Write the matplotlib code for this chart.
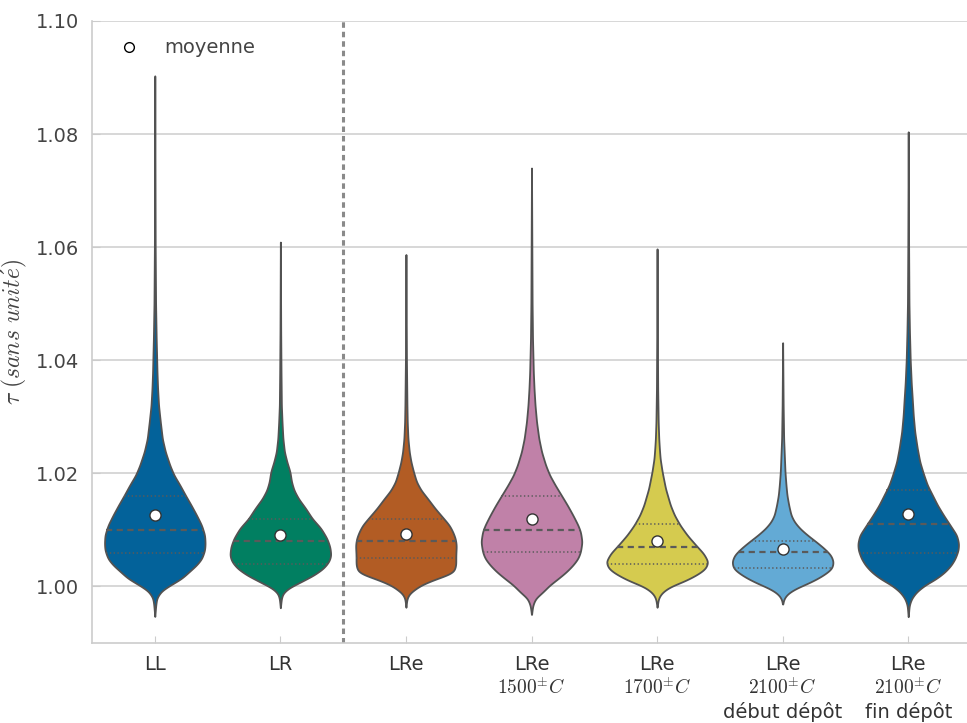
import numpy as np
import matplotlib
matplotlib.use("Agg")
import matplotlib.pyplot as plt
from matplotlib.lines import Line2D
from matplotlib.ticker import FormatStrFormatter

plt.rcParams['font.family'] = ['DejaVu Sans']
plt.rcParams['mathtext.fontset'] = 'cm'

# ---------------- data ----------------
categories = ["LL", "LR", "LRe",
              "LRe\n$\\mathsf{1500}^{\\pm}C$",
              "LRe\n$\\mathsf{1700}^{\\pm}C$",
              "LRe\n$\\mathsf{2100}^{\\pm}C$\ndébut dépôt",
              "LRe\n$\\mathsf{2100}^{\\pm}C$\nfin dépôt"]

# violin outlines: tau values and relative half-widths (1 = widest)
ll_y = [0.9947, 0.9968, 0.9980, 0.9992, 1.0002, 1.0014, 1.0026, 1.0038, 1.0049, 1.0064, 1.0076,
        1.0091, 1.0108, 1.0126, 1.0144, 1.0161, 1.0179, 1.0197, 1.0214, 1.0238, 1.0261, 1.0291,
        1.0320, 1.0350, 1.0379, 1.0409, 1.0438, 1.050, 1.060, 1.075, 1.0903]
ll_w = [0, 0.02, 0.04, 0.13, 0.30, 0.53, 0.68, 0.83, 0.93, 0.99, 1.0,
        0.99, 0.93, 0.83, 0.72, 0.61, 0.50, 0.38, 0.30, 0.21, 0.15, 0.11,
        0.075, 0.056, 0.044, 0.036, 0.028, 0.016, 0.008, 0.004, 0]

lr_y = [0.99623, 0.9979, 0.9988, 0.9997, 1.0008, 1.0020, 1.0032, 1.0044, 1.0055, 1.0070, 1.0085,
        1.0103, 1.0120, 1.0138, 1.0155, 1.0170, 1.0185, 1.0203, 1.0220, 1.0238, 1.0262, 1.0291,
        1.0320, 1.0379, 1.045, 1.0609]
lr_w = [0, 0.02, 0.05, 0.16, 0.40, 0.66, 0.85, 0.96, 1.0, 0.98, 0.92,
        0.80, 0.63, 0.50, 0.36, 0.27, 0.22, 0.19, 0.13, 0.08, 0.05, 0.033,
        0.02, 0.013, 0.007, 0]

lre_y = [0.99632, 0.99788, 0.99876, 0.99965, 1.00024, 1.00082, 1.00141, 1.0020, 1.00259, 1.00377,
         1.00554, 1.0073, 1.00848, 1.00966, 1.01084, 1.01201, 1.01378, 1.01555, 1.01702, 1.01849,
         1.02026, 1.02203, 1.02379, 1.02615, 1.02909, 1.03204, 1.040, 1.0587]
lre_w = [0, 0.02, 0.07, 0.20, 0.30, 0.45, 0.62, 0.82, 0.95, 0.99,
         0.99, 1.0, 0.98, 0.93, 0.86, 0.75, 0.58, 0.43, 0.30, 0.21,
         0.15, 0.10, 0.066, 0.04, 0.026, 0.02, 0.01, 0]

lre15_y = [0.99505, 0.9967, 0.99788, 0.99906, 1.00024, 1.00141, 1.00259, 1.00377, 1.00495, 1.00613,
           1.0079, 1.00966, 1.01084, 1.0126, 1.01437, 1.01614, 1.0179, 1.01967, 1.02144, 1.02379,
           1.02615, 1.02909, 1.03204, 1.03498, 1.03793, 1.04087, 1.04382, 1.050, 1.060, 1.0740]
lre15_w = [0, 0.026, 0.08, 0.23, 0.36, 0.53, 0.69, 0.82, 0.92, 0.97,
           1.0, 0.97, 0.92, 0.82, 0.71, 0.59, 0.47, 0.36, 0.28, 0.20,
           0.145, 0.10, 0.07, 0.05, 0.036, 0.028, 0.02, 0.012, 0.007, 0]

lre17_y = [0.99632, 0.99788, 0.99876, 0.99965, 1.00024, 1.00082, 1.00141, 1.0023, 1.00318, 1.00436,
           1.00583, 1.0073, 1.00907, 1.01084, 1.0126, 1.01437, 1.01732, 1.02026, 1.02261, 1.02438,
           1.02615, 1.02909, 1.035, 1.045, 1.0597]
lre17_w = [0, 0.026, 0.08, 0.20, 0.33, 0.50, 0.64, 0.82, 0.95, 1.0,
           0.91, 0.76, 0.59, 0.45, 0.34, 0.26, 0.165, 0.10, 0.06, 0.045,
           0.033, 0.022, 0.012, 0.006, 0]

lre21d_y = [0.99688, 0.99788, 0.99876, 0.99965, 1.00053, 1.00141, 1.0023, 1.00318, 1.00436, 1.00554,
            1.00672, 1.0079, 1.00907, 1.01025, 1.01143, 1.0126, 1.01437, 1.01614, 1.0179, 1.02026,
            1.0232, 1.02615, 1.032, 1.0431]
lre21d_w = [0, 0.026, 0.10, 0.26, 0.49, 0.69, 0.85, 0.97, 1.0, 0.95,
            0.82, 0.66, 0.49, 0.34, 0.23, 0.165, 0.12, 0.085, 0.066, 0.046,
            0.033, 0.02, 0.01, 0]

lre21f_y = [0.99465, 0.9967, 0.99788, 0.99906, 1.00024, 1.00141, 1.00259, 1.00377, 1.00495, 1.00642,
            1.0076, 1.00907, 1.01084, 1.0126, 1.01437, 1.01614, 1.0179, 1.01996, 1.02203, 1.02438,
            1.02733, 1.03027, 1.03322, 1.036, 1.040, 1.045, 1.050, 1.060, 1.070, 1.0804]
lre21f_w = [0, 0.02, 0.066, 0.165, 0.33, 0.56, 0.73, 0.85, 0.93, 0.99,
            1.0, 0.96, 0.83, 0.70, 0.58, 0.48, 0.38, 0.30, 0.23, 0.18,
            0.13, 0.10, 0.08, 0.06, 0.04, 0.025, 0.015, 0.008, 0.004, 0]

q1 = [1.0060, 1.0040, 1.0050, 1.0061, 1.0040, 1.0032, 1.0060]
median = [1.0099, 1.0081, 1.0081, 1.0100, 1.0070, 1.0061, 1.0110]
q3 = [1.0160, 1.0120, 1.0120, 1.0160, 1.0110, 1.0081, 1.0170]
means = [1.0126, 1.0091, 1.0092, 1.0119, 1.0081, 1.0066, 1.0128]

profiles = [(ll_y, ll_w), (lr_y, lr_w), (lre_y, lre_w), (lre15_y, lre15_w),
            (lre17_y, lre17_w), (lre21d_y, lre21d_w), (lre21f_y, lre21f_w)]

# ---------------- style ----------------
colors = ['#03629A', '#017F61', '#B25C24', '#C081A8', '#D5CB4F', '#63AAD5', '#03629A']
outline = '#525252'
half_max = 0.4

fig = plt.figure(figsize=(9.67, 7.23), dpi=100)
ax = fig.add_axes([92 / 967, 80 / 723, (971 - 92) / 967, 622 / 723])
ax.set_facecolor('white')

for i, (py, pw) in enumerate(profiles):
    py = np.asarray(py)
    pw = np.asarray(pw)
    fine = np.arange(py[0], py[-1], 0.0001)
    fine = np.append(fine, py[-1])
    w = np.interp(fine, py, pw)
    k = np.arange(-12, 13)
    ker = np.exp(-0.5 * (k / 4.0) ** 2)
    ker /= ker.sum()
    wp = np.concatenate([np.full(12, w[0]), w, np.full(12, w[-1])])
    ws = np.convolve(wp, ker, mode='valid')
    ws[0] = 0
    ws[-1] = 0
    ws = ws / ws.max()
    half = ws * half_max
    ax.fill_betweenx(fine, i - half, i + half, facecolor=colors[i], edgecolor=outline,
                     linewidth=1.3, zorder=2)
    # inner quartiles
    for val, kind in ((q1[i], 'q'), (median[i], 'm'), (q3[i], 'q')):
        hw = np.interp(val, fine, half)
        if kind == 'm':
            ax.plot([i - hw, i + hw], [val, val], color='#5a5a5a', lw=1.6,
                    dashes=(2.8, 2.0), zorder=3)
        else:
            ax.plot([i - hw, i + hw], [val, val], color='#5a5a5a', lw=1.1,
                    dashes=(0.9, 1.6), zorder=3)
    ax.plot(i, means[i], marker='o', markersize=8, markerfacecolor='white',
            markeredgecolor='#333333', markeredgewidth=1.0, linestyle='none', zorder=4)

# separator
ax.axvline(1.5, color='#8a8a8a', lw=2.2, dashes=(1.8, 1.3), zorder=1)

ax.set_xlim(-0.5, 6.5)
ax.set_ylim(0.99, 1.10)
ax.set_yticks([1.00, 1.02, 1.04, 1.06, 1.08, 1.10])
ax.yaxis.set_major_formatter(FormatStrFormatter('%.2f'))
ax.set_xticks(range(len(categories)))
ax.set_xticklabels(categories, fontsize=14, color='#333333')
ax.tick_params(axis='y', labelsize=14, labelcolor='#444444', direction='in', length=6,
               color='#cccccc', pad=9)
ax.tick_params(axis='x', direction='in', length=5, color='#cccccc', pad=9)
ax.yaxis.grid(True, color='#d4d4d4', lw=1.3, zorder=0)
ax.xaxis.grid(False)
ax.set_axisbelow(True)
for side in ('top', 'right'):
    ax.spines[side].set_visible(False)
for side in ('left', 'bottom'):
    ax.spines[side].set_color('#cccccc')
    ax.spines[side].set_linewidth(1.2)

ax.set_ylabel(r'$\tau\ (sans\ unit\acute{e})$', fontsize=17, color='#444444', labelpad=5)

handle = Line2D([], [], marker='o', linestyle='none', markersize=7, markerfacecolor='white',
                markeredgecolor='black', markeredgewidth=1.0)
ax.legend([handle], ['moyenne'], loc='upper left', frameon=False, fontsize=14,
          labelcolor='#444444')

fig.savefig('out.png', dpi=100)
